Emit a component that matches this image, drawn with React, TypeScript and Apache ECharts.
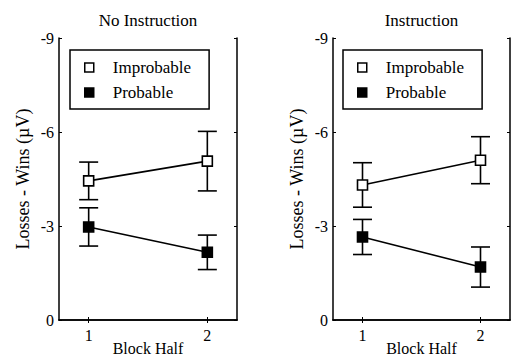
import React, { useEffect, useRef } from "react";
import * as echarts from "echarts";

const panelTitles = ["No Instruction", "Instruction"];
const blockHalf = [1, 2];
// values (µV) per panel
const improbableMeans = [
  [-4.44, -5.07],
  [-4.31, -5.1],
];
const improbableErr = [
  [0.6, 0.95],
  [0.71, 0.75],
];
const probableMeans = [
  [-2.97, -2.16],
  [-2.65, -1.69],
];
const probableErr = [
  [0.61, 0.55],
  [0.56, 0.64],
];
const yTicks = [-9, -6, -3, 0];

const FONT = "'Liberation Serif', 'Times New Roman', serif";
const grids = [
  { left: 59, top: 38, width: 178, height: 282, outerBoundsMode: "none", containLabel: false },
  { left: 333, top: 38, width: 177, height: 282, outerBoundsMode: "none", containLabel: false },
];
const legendPos = [
  { left: 70, top: 50 },
  { left: 343, top: 50 },
];

export default function App() {
  const ref = useRef<HTMLDivElement>(null);
  useEffect(() => {
    document.body.style.margin = "0";
    const chart = echarts.init(ref.current!, null, { renderer: "svg" });
    const xAxis: any[] = [];
    const yAxis: any[] = [];
    const series: any[] = [];
    const legend: any[] = [];
    const title: any[] = [];
    const axisLine = { show: true, lineStyle: { color: "#000", width: 1.5 } };
    grids.forEach((g, i) => {
      title.push({
        text: panelTitles[i],
        left: g.left + g.width / 2,
        top: 12,
        textAlign: "center",
        padding: 0,
        textStyle: { fontFamily: FONT, fontSize: 17, fontWeight: "normal", color: "#000" },
      });
      const xBase = {
        type: "value",
        gridIndex: i,
        min: 0.75,
        max: 2.25,
        axisLine,
        splitLine: { show: false },
      };
      xAxis.push({
        ...xBase,
        position: "bottom",
        axisTick: { show: true, inside: true, length: 3, customValues: blockHalf, lineStyle: { color: "#000", width: 1 } },
        axisLabel: { customValues: blockHalf, fontFamily: FONT, fontSize: 16, color: "#000", margin: 7 },
        name: "Block Half",
        nameLocation: "middle",
        nameGap: 20,
        nameMoveOverlap: false,
        nameTextStyle: { fontFamily: FONT, fontSize: 16, color: "#000" },
      });
      xAxis.push({
        ...xBase,
        position: "top",
        axisTick: { show: true, inside: true, length: 3, customValues: blockHalf, lineStyle: { color: "#000", width: 1 } },
        axisLabel: { show: false },
      });
      const yBase = {
        type: "value",
        gridIndex: i,
        min: -9,
        max: 0,
        interval: 3,
        inverse: true,
        axisLine,
        splitLine: { show: false },
        axisTick: { show: true, inside: true, length: 3, lineStyle: { color: "#000", width: 1 } },
      };
      yAxis.push({
        ...yBase,
        position: "left",
        axisLabel: {
          fontFamily: FONT,
          fontSize: 16,
          color: "#000",
          margin: 5,
          formatter: (v: number) => (yTicks.includes(v) ? String(v) : ""),
        },
        name: "Losses - Wins (\u00b5V)",
        nameLocation: "middle",
        nameGap: 27,
        nameMoveOverlap: false,
        nameRotate: 90,
        nameTextStyle: { fontFamily: FONT, fontSize: 18, color: "#000" },
      });
      yAxis.push({ ...yBase, position: "right", axisLabel: { show: false } });

      const errSeries = (means: number[], errs: number[]) => ({
        type: "custom",
        xAxisIndex: i * 2,
        yAxisIndex: i * 2,
        z: 1,
        data: blockHalf.map((x, k) => [x, means[k] - errs[k], means[k] + errs[k]]),
        renderItem: (params: any, api: any) => {
          const x = api.value(0);
          const lo = api.coord([x, api.value(1)]);
          const hi = api.coord([x, api.value(2)]);
          const hw = 9.5;
          const style = { stroke: "#000", lineWidth: 1.6, fill: "none" };
          return {
            type: "group",
            children: [
              { type: "line", shape: { x1: lo[0], y1: lo[1], x2: hi[0], y2: hi[1] }, style },
              { type: "line", shape: { x1: lo[0] - hw, y1: lo[1], x2: lo[0] + hw, y2: lo[1] }, style },
              { type: "line", shape: { x1: hi[0] - hw, y1: hi[1], x2: hi[0] + hw, y2: hi[1] }, style },
            ],
          };
        },
      });
      series.push(errSeries(improbableMeans[i], improbableErr[i]));
      series.push(errSeries(probableMeans[i], probableErr[i]));
      const lineSeries = (name: string, means: number[], fill: string) => ({
        type: "line",
        name,
        xAxisIndex: i * 2,
        yAxisIndex: i * 2,
        z: 3,
        data: blockHalf.map((x, k) => [x, means[k]]),
        symbol: "rect",
        symbolSize: 10,
        lineStyle: { color: "#000", width: 1.6 },
        itemStyle: { color: fill, borderColor: "#000", borderWidth: 1.6 },
      });
      series.push(lineSeries("Improbable", improbableMeans[i], "#fff"));
      series.push(lineSeries("Probable", probableMeans[i], "#000"));

      legend.push({
        ...legendPos[i],
        orient: "vertical",
        borderColor: "#000",
        borderWidth: 1.5,
        borderRadius: 0,
        padding: [9, 18, 8, 14],
        itemGap: 8,
        itemWidth: 9,
        itemHeight: 9,
        icon: "rect",
        selectedMode: false,
        textStyle: { fontFamily: FONT, fontSize: 17, color: "#000", padding: [0, 0, 0, 14] },
        data: [
          { name: "Improbable", icon: "rect", itemStyle: { color: "#fff", borderColor: "#000", borderWidth: 1.5 } },
          { name: "Probable", icon: "rect", itemStyle: { color: "#000", borderColor: "#000", borderWidth: 1.5 } },
        ],
      });
    });

    chart.setOption({
      animation: false,
      backgroundColor: "#fff",
      textStyle: { fontFamily: FONT, color: "#000" },
      title,
      grid: grids,
      xAxis,
      yAxis,
      legend,
      series,
    });
    return () => chart.dispose();
  }, []);
  return <div ref={ref} style={{ width: 511, height: 364 }} />;
}
